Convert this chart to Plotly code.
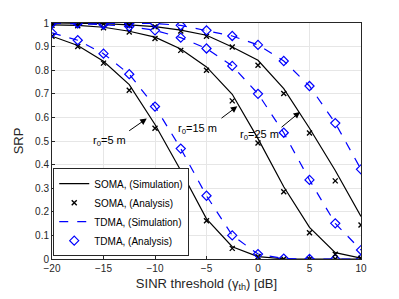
import plotly.graph_objects as go

sinr_db = [-20, -17.5, -15, -12.5, -10, -7.5, -5, -2.5, 0, 2.5, 5, 7.5, 10]

# r0 = 5 m
soma_sim_r5 = [0.944, 0.905, 0.838, 0.739, 0.570, 0.375, 0.170, 0.052, 0.010, 0.001, 0, 0, 0]
soma_ana_r5 = [0.944, 0.900, 0.830, 0.715, 0.554, 0.351, 0.162, 0.045, 0.010, 0.000, 0, 0, 0]
tdma_sim_r5 = [0.958, 0.927, 0.870, 0.783, 0.646, 0.468, 0.268, 0.100, 0.021, 0.002, 0, 0, 0]
tdma_ana_r5 = [0.958, 0.927, 0.870, 0.783, 0.646, 0.468, 0.268, 0.100, 0.021, 0.002, 0, 0, 0]

# r0 = 15 m
soma_sim_r15 = [0.992, 0.990, 0.982, 0.965, 0.940, 0.890, 0.814, 0.698, 0.510, 0.306, 0.134, 0.027, 0.004]
soma_ana_r15 = [0.990, 0.988, 0.980, 0.962, 0.934, 0.884, 0.800, 0.670, 0.492, 0.285, 0.111, 0.020, 0.003]
tdma_sim_r15 = [1.000, 0.998, 0.993, 0.985, 0.969, 0.938, 0.892, 0.818, 0.700, 0.535, 0.335, 0.151, 0.038]
tdma_ana_r15 = [1.000, 0.998, 0.993, 0.985, 0.969, 0.938, 0.892, 0.818, 0.700, 0.535, 0.335, 0.151, 0.038]

# r0 = 25 m
soma_sim_r25 = [1.000, 0.999, 0.997, 0.992, 0.985, 0.970, 0.948, 0.898, 0.842, 0.722, 0.554, 0.375, 0.180]
soma_ana_r25 = [1.000, 0.999, 0.997, 0.990, 0.984, 0.966, 0.944, 0.898, 0.821, 0.701, 0.534, 0.331, 0.144]
tdma_sim_r25 = [1.000, 1.000, 1.000, 0.999, 0.998, 0.990, 0.969, 0.945, 0.907, 0.839, 0.733, 0.576, 0.380]
tdma_ana_r25 = [1.000, 1.000, 1.000, 0.999, 0.998, 0.990, 0.969, 0.945, 0.907, 0.839, 0.733, 0.576, 0.380]

x_ticks = [-20, -15, -10, -5, 0, 5, 10]
y_ticks = [0, 0.1, 0.2, 0.3, 0.4, 0.5, 0.6, 0.7, 0.8, 0.9, 1]
y_tick_labels = ["0", "0.1", "0.2", "0.3", "0.4", "0.5", "0.6", "0.7", "0.8", "0.9", "1"]

# annotation labels, arrow heads / tails and label centres in data units
r0_labels = ["r<sub>0</sub>=5 m", "r<sub>0</sub>=15 m", "r<sub>0</sub>=25 m"]
arrow_heads = [(-10.8, 0.595), (-2.01, 0.647), (4.08, 0.623)]
arrow_tails = [(-12.65, 0.539), (-3.69, 0.592), (2.14, 0.553)]
label_pos = [(-14.37, 0.50), (-5.83, 0.55), (0.10, 0.525)]

FONT = "Liberation Sans, Arial, sans-serif"
BLUE = "#0000ff"

fig = go.Figure()

groups = [
    (soma_sim_r5, soma_ana_r5, tdma_sim_r5, tdma_ana_r5),
    (soma_sim_r15, soma_ana_r15, tdma_sim_r15, tdma_ana_r15),
    (soma_sim_r25, soma_ana_r25, tdma_sim_r25, tdma_ana_r25),
]

for i, (ss, sa, ts, ta) in enumerate(groups):
    show = i == 0
    fig.add_trace(go.Scatter(x=sinr_db, y=ss, mode="lines", name="SOMA, (Simulation)",
                             line=dict(color="black", width=1.2), showlegend=show, legendrank=1))
    fig.add_trace(go.Scatter(x=sinr_db, y=ts, mode="lines", name="TDMA, (Simulation)",
                             line=dict(color=BLUE, width=1.2, dash="dash"), showlegend=show, legendrank=3))
    fig.add_trace(go.Scatter(x=sinr_db, y=sa, mode="markers", name="SOMA, (Analysis)",
                             marker=dict(symbol="x-thin", size=5, line=dict(color="black", width=1.4), color="black"),
                             showlegend=show, legendrank=2))
    fig.add_trace(go.Scatter(x=sinr_db, y=ta, mode="markers", name="TDMA, (Analysis)",
                             marker=dict(symbol="diamond-open", size=7, color=BLUE, line=dict(width=1.2)),
                             showlegend=show, legendrank=4))

for text, (hx, hy), (tx, ty), (px, py) in zip(r0_labels, arrow_heads, arrow_tails, label_pos):
    fig.add_annotation(x=hx, y=hy, ax=tx, ay=ty, xref="x", yref="y", axref="x", ayref="y",
                       text="", showarrow=True, arrowhead=2, arrowsize=1.3, arrowwidth=1,
                       arrowcolor="black")
    fig.add_annotation(x=px, y=py, xref="x", yref="y", text=text, showarrow=False,
                       font=dict(family=FONT, size=11, color="black"))

# page body has an 8px margin, so the figure is sized and offset for that
W, H = 391, 291
L, R, T, B = 44, 38, 15, 40

axis_common = dict(showgrid=True, gridcolor="#e6e6e6", gridwidth=1, zeroline=False,
                   showline=True, linecolor="#262626", linewidth=1, mirror=True,
                   ticks="inside", ticklen=3, tickcolor="#262626", automargin=False,
                   tickfont=dict(family=FONT, size=10, color="#262626"))

fig.update_xaxes(range=[-20, 10], tickvals=x_ticks,
                 title=dict(text="SINR threshold (γ<sub>th</sub>) [dB]", standoff=5,
                            font=dict(family=FONT, size=13, color="#262626")),
                 **axis_common)
fig.update_yaxes(range=[0, 1], tickvals=y_ticks, ticktext=y_tick_labels,
                 title=dict(text="SRP", standoff=8, font=dict(family=FONT, size=13, color="#262626")),
                 **axis_common)

fig.update_layout(
    width=W, height=H,
    margin=dict(l=L, r=R, t=T, b=B),
    paper_bgcolor="white", plot_bgcolor="white",
    font=dict(family=FONT, color="#262626"),
    legend=dict(x=0.004, y=0.012, xanchor="left", yanchor="bottom",
                bgcolor="white", bordercolor="#262626", borderwidth=1,
                font=dict(family=FONT, size=10, color="black"),
                tracegroupgap=0, itemwidth=30),
)

fig.write_html("out.html")
